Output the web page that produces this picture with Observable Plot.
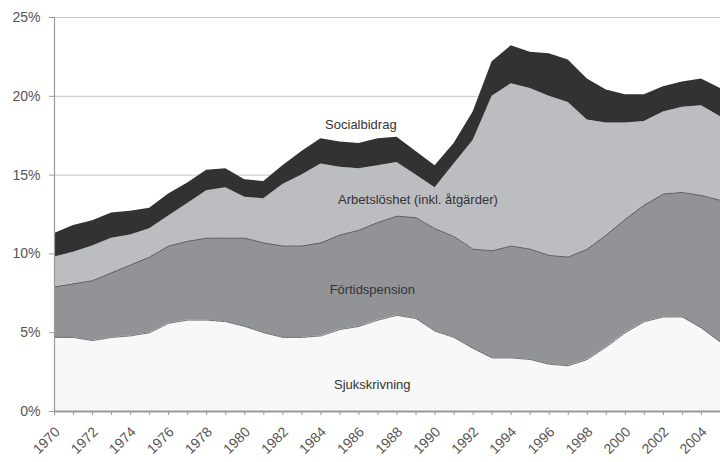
<!DOCTYPE html>
<html>
<head>
<meta charset="utf-8">
<script src="https://cdn.jsdelivr.net/npm/d3@7"></script>
<script src="https://cdn.jsdelivr.net/npm/@observablehq/plot@0.6"></script>
<style>
  html, body { margin: 0; padding: 0; background: #fff; }
  #chart svg { display: block; }
</style>
</head>
<body>
<div id="chart"></div>
<script>
const years = d3.range(1970, 2006);

const seriesNames = ["Sjukskrivning", "Förtidspension", "Arbetslöshet (inkl. åtgärder)", "Socialbidrag"];
const seriesColors = ["#f8f8f8", "#929397", "#bcbdc1", "#323232"];

const sjukskrivning = [4.7,4.7,4.5,4.7,4.8,5.0,5.6,5.8,5.8,5.7,5.4,5.0,4.7,4.7,4.8,5.2,5.4,5.8,6.1,5.9,5.1,4.7,4.0,3.4,3.4,3.3,3.0,2.9,3.3,4.1,5.0,5.7,6.0,6.0,5.3,4.4];
const fortidspension = [3.2,3.4,3.8,4.1,4.5,4.8,4.9,5.0,5.2,5.3,5.6,5.7,5.8,5.8,5.9,6.0,6.1,6.2,6.3,6.4,6.5,6.4,6.3,6.8,7.1,7.0,6.9,6.9,7.0,7.1,7.2,7.4,7.8,7.9,8.4,9.0];
const arbetsloshet = [1.9,2.0,2.2,2.2,1.9,1.8,1.9,2.4,3.0,3.2,2.6,2.8,3.9,4.5,5.0,4.3,3.9,3.6,3.4,2.7,2.6,4.6,6.9,9.8,10.3,10.2,10.1,9.8,8.2,7.1,6.1,5.3,5.2,5.4,5.7,5.3];
const socialbidrag = [1.5,1.7,1.6,1.6,1.5,1.3,1.4,1.3,1.3,1.2,1.1,1.1,1.2,1.5,1.6,1.6,1.6,1.7,1.6,1.5,1.4,1.3,1.8,2.2,2.4,2.3,2.7,2.7,2.6,2.1,1.8,1.7,1.6,1.6,1.7,1.8];

const yTicks = [0, 5, 10, 15, 20, 25];
const xLabelYears = d3.range(1970, 2005, 2);

// in-chart series labels (year, value)
const labelText = ["Socialbidrag", "Arbetslöshet (inkl. åtgärder)", "Förtidspension", "Sjukskrivning"];
const labelYear = [1986.1, 1989.1, 1986.7, 1986.7];
const labelValue = [18.2, 13.4, 7.7, 1.7];

const seriesValues = [sjukskrivning, fortidspension, arbetsloshet, socialbidrag];
const rows = [];
seriesNames.forEach((name, i) => {
  years.forEach((yr, j) => rows.push({year: yr, series: name, value: seriesValues[i][j]}));
});

// cumulative tops for the boundary lines of the two lower series
const boundary = [];
years.forEach((yr, j) => {
  let cum = 0;
  for (let i = 0; i < 2; i++) {
    cum += seriesValues[i][j];
    boundary.push({year: yr, series: seriesNames[i], top: cum});
  }
});

const labels = labelText.map((t, i) => ({text: t, year: labelYear[i], value: labelValue[i]}));

const chart = Plot.plot({
  width: 720,
  height: 462,
  marginTop: 17,
  marginBottom: 51,
  marginLeft: 54,
  marginRight: 0,
  style: {fontFamily: "Liberation Sans, Arial, sans-serif", fontSize: "13px", color: "#333", background: "#fff"},
  x: {domain: [1970, 2005]},
  y: {domain: [0, 25]},
  color: {domain: seriesNames, range: seriesColors},
  marks: [
    Plot.ruleY(yTicks.slice(1), {stroke: "#c4c4c4", strokeWidth: 1}),
    Plot.areaY(rows, {x: "year", y: "value", z: "series", fill: "series", order: seriesNames}),
    Plot.line(boundary, {x: "year", y: "top", z: "series", stroke: "#555", strokeWidth: 0.9, strokeDasharray: "2,1"}),
    Plot.ruleX([1970], {stroke: "#9a9a9a", strokeWidth: 1.2}),
    Plot.ruleY([0], {stroke: "#9a9a9a", strokeWidth: 2}),
    Plot.axisY({ticks: yTicks, tickFormat: d => d + "%", tickSize: 5, tickPadding: 9, label: null, stroke: "#9a9a9a", fill: "#555", fontSize: 14, letterSpacing: "0.3px"}),
    Plot.axisX({ticks: years, tickSize: 4, text: null, label: null, stroke: "#9a9a9a"}),
    Plot.axisX({ticks: xLabelYears, tickFormat: d => String(d), tickSize: 0, tickPadding: 18, dx: 3, tickRotate: -45, label: null, fill: "#555", fontSize: 14, letterSpacing: "0.5px"}),
    Plot.text(labels, {x: "year", y: "value", text: "text", fill: "#333", fontSize: 13, letterSpacing: "0.5px"})
  ]
});

document.getElementById("chart").appendChild(chart);
</script>
</body>
</html>
